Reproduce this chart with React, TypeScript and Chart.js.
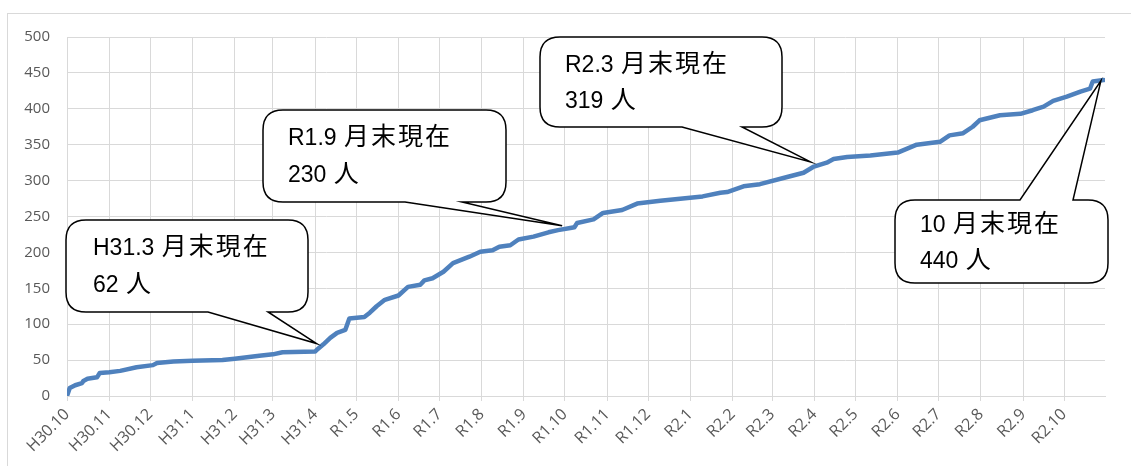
import React, { useEffect, useRef } from "react";
import { Chart, registerables } from "chart.js";

Chart.register(...registerables);

// Month tick labels and their day offsets (days since 2018-10-01)
const monthLabels = [
  "H30.10", "H30.11", "H30.12", "H31.1", "H31.2", "H31.3", "H31.4",
  "R1.5", "R1.6", "R1.7", "R1.8", "R1.9", "R1.10", "R1.11", "R1.12",
  "R2.1", "R2.2", "R2.3", "R2.4", "R2.5", "R2.6", "R2.7", "R2.8", "R2.9", "R2.10",
];
const monthStartDays = [
  0, 31, 61, 92, 123, 151, 182, 212, 243, 273, 304, 335, 365, 396, 426,
  457, 488, 517, 548, 578, 609, 639, 670, 701, 731,
];
const axisEndDay = 761;

// Cumulative count series (day offset, value)
const seriesDays = [
  0, 2, 6, 11, 12, 15, 22, 24, 31, 39,
  51, 63, 66, 78, 92, 114, 123, 141, 151, 158,
  182, 183, 188, 193, 198, 204, 207, 218, 222, 227,
  233, 243, 250, 259, 262, 268, 276, 283, 295, 303,
  312, 317, 325, 331, 342, 353, 360, 369, 372, 374,
  386, 393, 407, 418, 435, 466, 479, 484, 496, 508,
  528, 540, 547, 557, 562, 572, 589, 609, 623, 640,
  647, 657, 664, 669, 684, 699, 708, 716, 723, 733,
  743, 750, 752, 760,
];
const seriesValues = [
  0, 11, 15, 18, 21, 24, 26, 32, 33, 35,
  40, 43, 46, 48, 49, 50, 52, 56, 58, 61,
  62, 64, 72, 81, 88, 92, 108, 110, 116, 125,
  134, 140, 152, 155, 161, 164, 173, 185, 194, 201,
  203, 208, 210, 218, 222, 228, 231, 234, 235, 241,
  246, 255, 259, 268, 272, 278, 283, 284, 292, 295,
  305, 311, 319, 325, 330, 333, 335, 339, 350, 354,
  363, 366, 375, 384, 391, 393, 398, 403, 411, 417,
  424, 428, 438, 440,
];

const calloutLines = [
  ["H31.3 月末現在", "62 人"],
  ["R1.9 月末現在", "230 人"],
  ["R2.3 月末現在", "319 人"],
  ["10 月末現在", "440 人"],
];
// Tip of each callout in data coordinates
const calloutTipDays = [183, 363, 545, 758];
const calloutTipValues = [73, 237, 326, 439];

// Callout box layout (pixels)
const calloutBoxes = [
  { l: 66, t: 220, r: 308, b: 312, side: "bottom", b1: 208, b2: 268, tx: 93, y1: 35, y2: 72 },
  { l: 263, t: 110, r: 506, b: 202, side: "bottom", b1: 405, b2: 462, tx: 288, y1: 35, y2: 72 },
  { l: 540, t: 37, r: 782, b: 127, side: "bottom", b1: 682, b2: 742, tx: 565, y1: 35, y2: 71 },
  { l: 895, t: 200, r: 1108, b: 283, side: "top", b1: 1020, b2: 1073, tx: 920, y1: 32, y2: 68 },
];

function drawMixed(ctx: CanvasRenderingContext2D, text: string, x: number, y: number) {
  let cx = x;
  for (const ch of text) {
    const cjk = ch.charCodeAt(0) > 0x2e80;
    if (cjk) {
      ctx.font = '25px "Noto Sans CJK JP"';
      const w = ctx.measureText(ch).width;
      ctx.fillText(ch, cx + (27 - w) / 2, y);
      cx += 27;
    } else {
      ctx.font = '23px "Liberation Sans"';
      ctx.fillText(ch, cx, y);
      cx += ctx.measureText(ch).width;
    }
  }
}

const calloutPlugin = {
  id: "callouts",
  beforeDraw(chart: any) {
    const ctx = chart.ctx;
    ctx.save();
    ctx.strokeStyle = "#d9d9d9";
    ctx.lineWidth = 1;
    ctx.strokeRect(7.5, 13.5, 1200, 500);
    ctx.restore();
  },
  afterDatasetsDraw(chart: any) {
    const ctx: CanvasRenderingContext2D = chart.ctx;
    const xs = chart.scales.x;
    const ys = chart.scales.y;
    calloutBoxes.forEach((bx, i) => {
      const tipX = xs.getPixelForValue(calloutTipDays[i]);
      const tipY = ys.getPixelForValue(calloutTipValues[i]);
      const r = 20;
      const { l, t, b } = bx;
      const rr = bx.r;
      ctx.save();
      ctx.beginPath();
      ctx.moveTo(l + r, t);
      if (bx.side === "top") {
        ctx.lineTo(bx.b1, t);
        ctx.lineTo(tipX, tipY);
        ctx.lineTo(bx.b2, t);
      }
      ctx.lineTo(rr - r, t);
      ctx.quadraticCurveTo(rr, t, rr, t + r);
      ctx.lineTo(rr, b - r);
      ctx.quadraticCurveTo(rr, b, rr - r, b);
      if (bx.side === "bottom") {
        ctx.lineTo(bx.b2, b);
        ctx.lineTo(tipX, tipY);
        ctx.lineTo(bx.b1, b);
      }
      ctx.lineTo(l + r, b);
      ctx.quadraticCurveTo(l, b, l, b - r);
      ctx.lineTo(l, t + r);
      ctx.quadraticCurveTo(l, t, l + r, t);
      ctx.closePath();
      ctx.fillStyle = "#ffffff";
      ctx.fill();
      ctx.strokeStyle = "#000000";
      ctx.lineWidth = 1.5;
      ctx.lineJoin = "miter";
      ctx.stroke();
      ctx.fillStyle = "#000000";
      ctx.textBaseline = "alphabetic";
      ctx.textAlign = "left";
      drawMixed(ctx, calloutLines[i][0], bx.tx, t + bx.y1);
      drawMixed(ctx, calloutLines[i][1], bx.tx, t + bx.y2);
      ctx.restore();
    });
  },
};

export default function App() {
  const ref = useRef<HTMLCanvasElement | null>(null);
  useEffect(() => {
    if (!ref.current) return;
    const points = seriesDays.map((d, i) => ({ x: d, y: seriesValues[i] }));
    const chart = new Chart(ref.current, {
      type: "line",
      data: {
        datasets: [
          {
            data: points,
            borderColor: "#4f81bd",
            borderWidth: 4.5,
            pointRadius: 0,
            tension: 0,
            borderCapStyle: "round",
            borderJoinStyle: "round",
            fill: false,
          },
        ],
      },
      options: {
        responsive: false,
        animation: false,
        devicePixelRatio: 1,
        layout: { padding: { left: 0, top: 37, right: 26, bottom: 0 } },
        plugins: { legend: { display: false }, tooltip: { enabled: false } },
        scales: {
          x: {
            type: "linear",
            min: 0,
            max: axisEndDay,
            afterBuildTicks: (s: any) => {
              s.ticks = monthStartDays.map((v) => ({ value: v }));
            },
            afterFit: (s: any) => {
              s.height = 70;
            },
            ticks: {
              autoSkip: false,
              maxRotation: 45,
              minRotation: 45,
              padding: 4,
              color: "#595959",
              font: { family: '"Open Sans"', size: 16 },
              callback: (_v: any, i: number) => monthLabels[i],
            },
            grid: { color: "#d9d9d9", lineWidth: 1, drawTicks: true, tickLength: 5 },
            border: { color: "#d9d9d9" },
          },
          y: {
            min: 0,
            max: 500,
            afterFit: (s: any) => {
              s.width = 67;
            },
            ticks: {
              stepSize: 50,
              padding: 17,
              color: "#595959",
              font: { family: '"Open Sans"', size: 15 },
            },
            grid: { color: "#d9d9d9", lineWidth: 1, drawTicks: false },
            border: { display: false },
          },
        },
      },
      plugins: [calloutPlugin],
    });
    return () => chart.destroy();
  }, []);
  return (
    <div style={{ position: "absolute", left: 0, top: 0, width: 1131, height: 466, background: "#fff" }}>
      <canvas ref={ref} width={1131} height={466} style={{ display: "block" }} />
    </div>
  );
}
